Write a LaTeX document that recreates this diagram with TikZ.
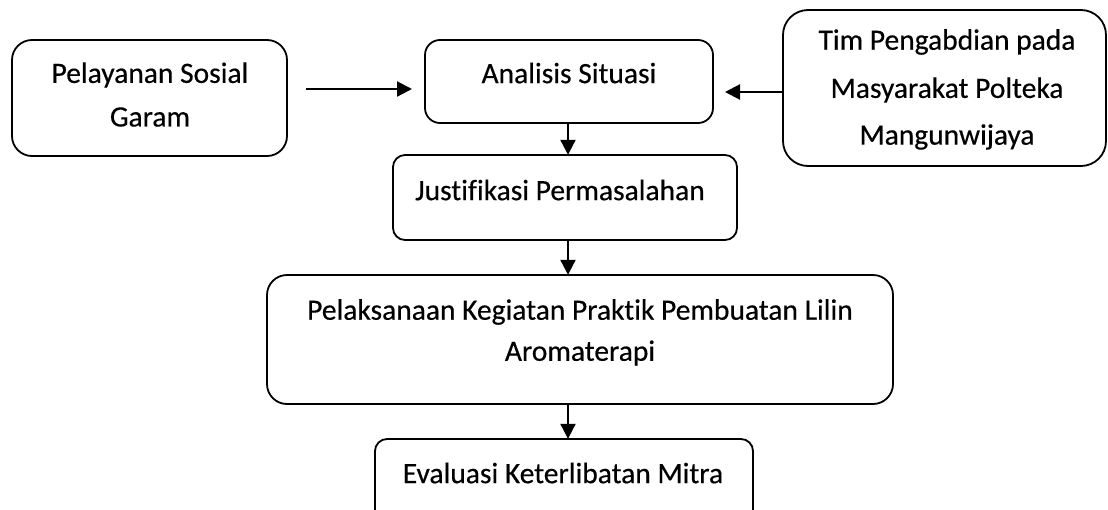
\documentclass[tikz,border=0pt]{standalone}
\usepackage{fontspec}
\setmainfont[RawFeature={-liga;-clig}, FakeBold=0.4]{Carlito}
\usetikzlibrary{arrows.meta}
\tikzset{
  box/.style={draw=black, line width=1.8pt, fill=white},
  txt/.style={inner sep=0pt, align=center, font=\fontsize{29.5}{47}\selectfont},
  arr/.style={line width=2.2pt, -{Triangle[length=15pt,width=15pt]}}
}
\begin{document}
\begin{tikzpicture}[x=1pt,y=-1pt]
\useasboundingbox (0,0) rectangle (1108,509);
\fill[white] (0,0) rectangle (1108,509);
% boxes
\draw[box, rounded corners=20pt] (12,40) rectangle (287,156);
\node[inner sep=0pt, minimum width=275pt, minimum height=116pt] (b1) at (149.5,98) {};
\draw[box, rounded corners=15pt] (425,40) rectangle (713,123);
\node[inner sep=0pt, minimum width=288pt, minimum height=83pt] (b2) at (569,81.5) {};
\draw[box, rounded corners=25pt] (783,10) rectangle (1106,166);
\node[inner sep=0pt, minimum width=323pt, minimum height=156pt] (b3) at (944.5,88) {};
\draw[box, rounded corners=12pt] (393,155) rectangle (737,240);
\node[inner sep=0pt, minimum width=344pt, minimum height=85pt] (b4) at (565,197.5) {};
\draw[box, rounded corners=20pt] (267,275) rectangle (893,404);
\node[inner sep=0pt, minimum width=626pt, minimum height=129pt] (b5) at (580,339.5) {};
\draw[box, rounded corners=12pt] (375,439) rectangle (753,530);
\node[inner sep=0pt, minimum width=378pt, minimum height=91pt] (b6) at (564,484.5) {};
% texts
\node[txt] (t1a) at (150,75) {Pelayanan Sosial};
\node[txt] (t1b) at (150,117) {Garam};
\node[txt] (t2) at (569,73) {Analisis Situasi};
\node[txt] (t3a) at (947,42) {Tim Pengabdian pada};
\node[txt] (t3b) at (947,90) {Masyarakat Polteka};
\node[txt] (t3c) at (947,137) {Mangunwijaya};
\node[txt] (t4) at (560,190) {Justifikasi Permasalahan};
\node[txt] (t5a) at (580,312) {Pelaksanaan Kegiatan Praktik Pembuatan Lilin};
\node[txt] (t5b) at (580,353) {Aromaterapi};
\node[txt] (t6) at (563,473) {Evaluasi Keterlibatan Mitra};
% connector ends
\coordinate (p1s) at (306,89);
\coordinate (p1e) at (412,89);
\coordinate (p2e) at (725,92);
\draw[arr] (p1s) -- (p1e);
\draw[arr] (b3.west |- p2e) -- (p2e);
\draw[arr] (b2.south -| 568,0) -- (b4.north -| 568,0);
\draw[arr] (b4.south -| 568,0) -- (b5.north -| 568,0);
\draw[arr] (b5.south -| 568,0) -- (b6.north -| 568,0);
\end{tikzpicture}
\end{document}
